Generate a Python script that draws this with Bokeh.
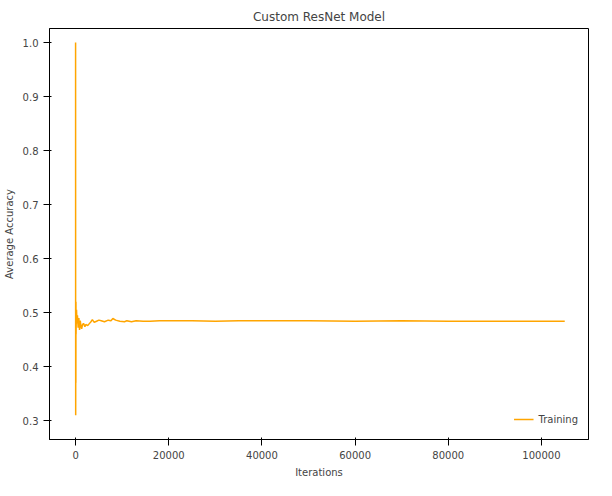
from bokeh.plotting import figure
from bokeh.models import Range1d, Legend, LegendItem, NumeralTickFormatter
from bokeh.embed import file_html
from bokeh.resources import INLINE

iterations = [0, 10, 20, 40, 60, 80, 100, 150, 200, 300, 400, 550, 700, 850, 1000, 1150,
              1300, 1500, 1700, 2000, 2200, 2600, 3000, 3300, 3600, 4000, 4500, 5000,
              5500, 6200, 7000, 7600, 8000, 8600, 9500, 10500, 11000, 12000, 13000,
              14500, 16000, 18000, 20000, 25000, 30000, 35000, 40000, 50000, 60000,
              70000, 80000, 90000, 100000, 105000]
accuracy = [1.0, 0.5, 0.31, 0.46, 0.37, 0.52, 0.46, 0.49, 0.505, 0.48, 0.495, 0.472, 0.49,
            0.468, 0.485, 0.475, 0.47, 0.478, 0.48, 0.474, 0.478, 0.476, 0.48, 0.483,
            0.487, 0.482, 0.484, 0.486, 0.485, 0.483, 0.486, 0.485, 0.489, 0.486, 0.484,
            0.483, 0.485, 0.483, 0.485, 0.484, 0.484, 0.485, 0.485, 0.485, 0.484, 0.485,
            0.485, 0.485, 0.484, 0.485, 0.484, 0.484, 0.484, 0.484]

p = figure(width=596, height=480, output_backend="svg", toolbar_location=None,
           title="Custom ResNet Model", x_range=Range1d(-5600, 110100),
           y_range=Range1d(0.265, 1.026), min_border_left=42, min_border_right=8,
           min_border_top=28, min_border_bottom=30)
p.title.align = "center"
p.title.text_font = "DejaVu Sans"
p.title.text_font_style = "normal"
p.title.text_font_size = "12px"
r = p.line(iterations, accuracy, line_color="orange", line_width=1.5)
p.xaxis.axis_label = "Iterations"
p.yaxis.axis_label = "Average Accuracy"
for ax in (p.xaxis[0], p.yaxis[0]):
    ax.axis_label_text_font = "DejaVu Sans"
    ax.axis_label_text_font_style = "normal"
    ax.axis_label_text_font_size = "10px"
    ax.major_label_text_font = "DejaVu Sans"
    ax.major_label_text_font_size = "10px"
    ax.minor_tick_line_color = None
p.xaxis.ticker = [0, 20000, 40000, 60000, 80000, 100000]
p.xaxis.formatter = NumeralTickFormatter(format="0")
p.yaxis.ticker = [0.3, 0.4, 0.5, 0.6, 0.7, 0.8, 0.9, 1.0]
p.yaxis.formatter = NumeralTickFormatter(format="0.0")
p.xgrid.visible = False
p.ygrid.visible = False
p.outline_line_color = "black"
legend = Legend(items=[LegendItem(label="Training", renderers=[r])],
                location="bottom_right", border_line_color=None,
                label_text_font="DejaVu Sans", label_text_font_size="10px")
p.add_layout(legend)

open("out.html", "w").write(file_html(p, INLINE))
